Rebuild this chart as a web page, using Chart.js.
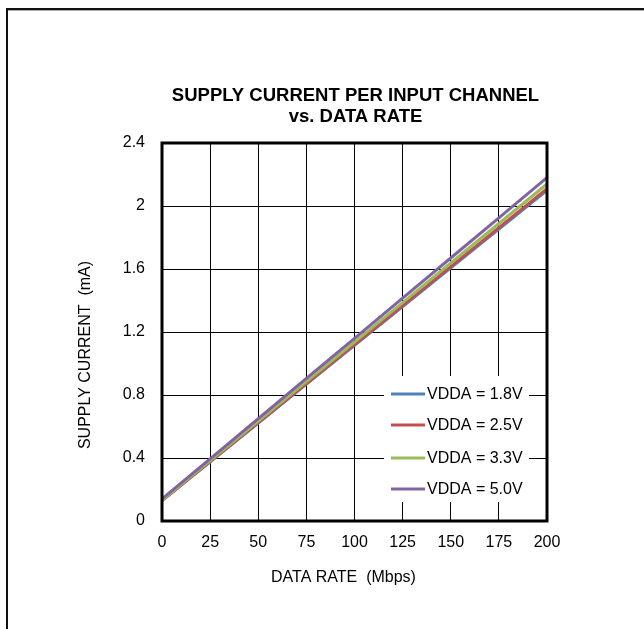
<!DOCTYPE html>
<html>
<head>
<meta charset="utf-8">
<title>Supply current per input channel vs. data rate</title>
<script src="https://cdn.jsdelivr.net/npm/chart.js@4/dist/chart.umd.min.js"></script>
<style>
  html, body { margin: 0; padding: 0; background: #fff; }
  #wrap { width: 644px; height: 629px; }
</style>
</head>
<body>
<div id="wrap"><canvas id="myChart" width="644" height="629"></canvas></div>
<script>
// data
const dataRate = [0, 25, 50, 75, 100, 125, 150, 175, 200];
const vdda18 = [0.130, 0.376, 0.622, 0.869, 1.115, 1.361, 1.608, 1.854, 2.100];
const vdda25 = [0.130, 0.378, 0.625, 0.873, 1.120, 1.368, 1.615, 1.863, 2.110];
const vdda33 = [0.132, 0.383, 0.634, 0.885, 1.136, 1.387, 1.638, 1.889, 2.140];
const vdda50 = [0.140, 0.395, 0.650, 0.905, 1.160, 1.415, 1.670, 1.925, 2.180];

const seriesLabels = ['VDDA = 1.8V', 'VDDA = 2.5V', 'VDDA = 3.3V', 'VDDA = 5.0V'];
const xTickLabels = ['0', '25', '50', '75', '100', '125', '150', '175', '200'];
const yTickLabels = ['0', '0.4', '0.8', '1.2', '1.6', '2', '2.4'];

const titleLines = ['SUPPLY CURRENT PER INPUT CHANNEL', 'vs. DATA RATE'];
const xTitle = 'DATA RATE  (Mbps)';
const yTitle = 'SUPPLY CURRENT  (mA)';

const FONT = "'Liberation Sans', Arial, sans-serif";
Chart.defaults.font.family = FONT;
Chart.defaults.font.size = 16;
Chart.defaults.color = '#000';

function toPoints(values) {
    return values.map((v, i) => ({ x: dataRate[i], y: v }));
}

// white page + the dark border along the top/left
const pageFrame = {
    id: 'pageFrame',
    beforeDraw(chart) {
        const ctx = chart.ctx;
        ctx.save();
        ctx.fillStyle = '#fff';
        ctx.fillRect(0, 0, chart.width, chart.height);
        ctx.fillStyle = '#111';
        ctx.fillRect(6, 8, chart.width, 2);
        ctx.fillRect(6, 8, 2, chart.height);
        ctx.fillStyle = '#aaa';
        ctx.fillRect(8, 10, chart.width, 1);
        ctx.restore();
    }
};

// thick box round the plot
const plotFrame = {
    id: 'plotFrame',
    afterDatasetsDraw(chart) {
        const { ctx, chartArea: a } = chart;
        ctx.save();
        ctx.strokeStyle = '#000';
        ctx.lineWidth = 3;
        ctx.strokeRect(a.left, a.top, a.right - a.left, a.bottom - a.top);
        ctx.restore();
    }
};

// chart title and axis titles
const chartText = {
    id: 'chartText',
    afterDraw(chart) {
        const { ctx, chartArea: a } = chart;
        const cx = (a.left + a.right) / 2;
        ctx.save();
        ctx.fillStyle = '#000';
        ctx.textAlign = 'center';
        ctx.textBaseline = 'alphabetic';
        ctx.font = 'bold 18.5px ' + FONT;
        ctx.fillText(titleLines[0], cx + 1, a.top - 42);
        ctx.fillText(titleLines[1], cx + 1, a.top - 21);

        ctx.font = '16px ' + FONT;
        ctx.fillText(xTitle, cx - 11, a.bottom + 61);

        ctx.translate(a.left - 72, (a.top + a.bottom) / 2 + 23);
        ctx.rotate(-Math.PI / 2);
        ctx.fillText(yTitle, 0, 0);
        ctx.restore();
    }
};

// boxed legend in the lower right of the plot
const boxLegend = {
    id: 'boxLegend',
    afterDraw(chart) {
        const { ctx, chartArea: a } = chart;
        const w = 145, h = 126;
        const left = a.right - 18 - w;
        const top = a.bottom - 19 - h;
        ctx.save();
        ctx.fillStyle = '#fff';
        ctx.fillRect(left, top, w, h);
        ctx.font = '16px ' + FONT;
        ctx.textAlign = 'left';
        ctx.textBaseline = 'middle';
        chart.data.datasets.forEach((ds, i) => {
            const y = top + 18 + i * 31 + (i >= 2 ? 2 : 0);
            ctx.strokeStyle = ds.borderColor;
            ctx.lineWidth = 3;
            ctx.beginPath();
            ctx.moveTo(left + 7, y);
            ctx.lineTo(left + 41, y);
            ctx.stroke();
            ctx.fillStyle = '#000';
            ctx.fillText(ds.label, left + 43, y + 1);
        });
        ctx.restore();
    }
};

const ctx = document.getElementById('myChart').getContext('2d');

const myChart = new Chart(ctx, {
    type: 'line',
    data: {
        datasets: [{
            label: seriesLabels[0],
            data: toPoints(vdda18),
            borderColor: '#4F81BD',
            order: 4
        }, {
            label: seriesLabels[1],
            data: toPoints(vdda25),
            borderColor: '#C0504D',
            order: 3
        }, {
            label: seriesLabels[2],
            data: toPoints(vdda33),
            borderColor: '#9BBB59',
            order: 2
        }, {
            label: seriesLabels[3],
            data: toPoints(vdda50),
            borderColor: '#8064A2',
            order: 1
        }]
    },
    options: {
        responsive: false,
        animation: false,
        layout: {
            padding: { left: 40, right: 97, top: 143, bottom: 40 }
        },
        elements: {
            point: { radius: 0 },
            line: { borderWidth: 3, tension: 0, fill: false }
        },
        scales: {
            x: {
                type: 'linear',
                min: 0,
                max: 200,
                afterBuildTicks: scale => {
                    scale.ticks = xTickLabels.map(t => ({ value: Number(t) }));
                },
                afterFit: scale => { scale.height = 68; },
                grid: { color: '#000', lineWidth: 1, drawTicks: false },
                border: { display: false },
                ticks: {
                    padding: 12,
                    maxRotation: 0,
                    callback: (value, index) => xTickLabels[index]
                }
            },
            y: {
                type: 'linear',
                min: 0,
                max: 2.4,
                afterBuildTicks: scale => {
                    scale.ticks = yTickLabels.map(t => ({ value: Number(t) }));
                },
                afterFit: scale => { scale.width = 122; },
                grid: { color: '#000', lineWidth: 1, drawTicks: false },
                border: { display: false },
                ticks: {
                    padding: 17,
                    callback: (value, index) => yTickLabels[index]
                }
            }
        },
        plugins: {
            legend: { display: false },
            tooltip: { enabled: false }
        }
    },
    plugins: [pageFrame, plotFrame, chartText, boxLegend]
});
</script>
</body>
</html>
